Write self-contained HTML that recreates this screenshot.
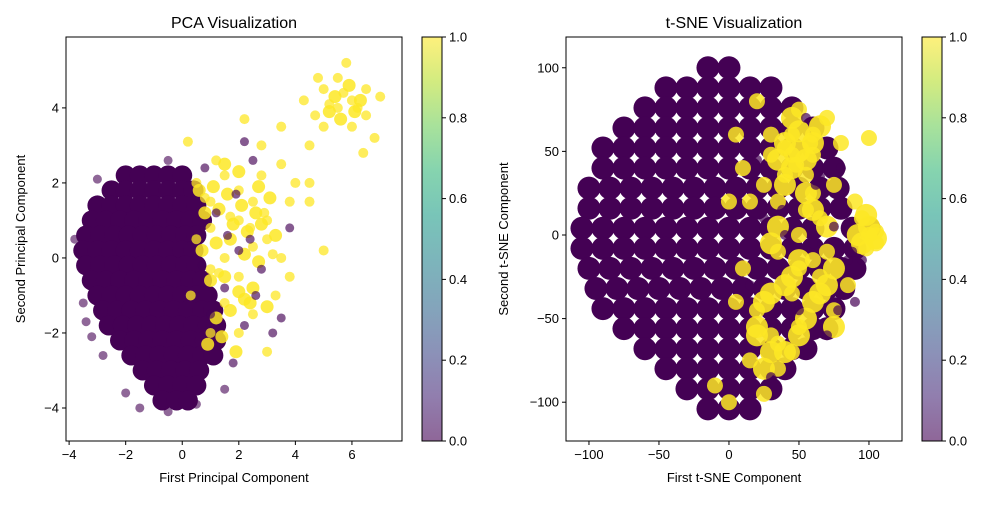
<!DOCTYPE html>
<html><head><meta charset="utf-8"><style>
body{margin:0;background:#fff;width:1000px;height:500px;overflow:hidden}
svg text{font-family:"Liberation Sans","DejaVu Sans",sans-serif;fill:#000}
</style></head><body>
<svg id="chart" width="1000" height="500" xmlns="http://www.w3.org/2000/svg">
<defs>
<linearGradient id="vir" x1="0" y1="1" x2="0" y2="0">
<stop offset="0" stop-color="#440154"/><stop offset="0.11" stop-color="#482878"/><stop offset="0.22" stop-color="#3e4989"/><stop offset="0.33" stop-color="#31688e"/><stop offset="0.44" stop-color="#26828e"/><stop offset="0.56" stop-color="#1f9e89"/><stop offset="0.67" stop-color="#35b779"/><stop offset="0.78" stop-color="#6ece58"/><stop offset="0.89" stop-color="#b5de2b"/><stop offset="1" stop-color="#fde725"/>
</linearGradient>
<clipPath id="c1"><rect x="66" y="37" width="336" height="404"/></clipPath>
<clipPath id="c2"><rect x="566" y="37" width="336" height="404"/></clipPath>
</defs>
<g id="g1" clip-path="url(#c1)"></g>
<g id="g2" clip-path="url(#c2)"></g>
<g id="axes"></g>
</svg>
<script>
// ---- PCA data ----
const pcaRowY=[2.2,1.8,1.4,1.0,0.6,0.2,-0.2,-0.6,-1.0,-1.4,-1.8,-2.2,-2.6,-3.0,-3.4,-3.8];
const pcaRowX=[[-2,-1.5,-1,-0.5,0],[-2.5,-2,-1.5,-1,-0.5,0,0.4],[-3,-2.5,-2,-1.5,-1,-0.5,0,0.5],[-3.2,-2.7,-2.2,-1.7,-1.2,-0.7,-0.2,0.3,0.7],[-3.4,-2.9,-2.4,-1.9,-1.4,-0.9,-0.4,0.1,0.5],[-3.5,-3,-2.5,-2,-1.5,-1,-0.5,0,0.4],[-3.4,-2.9,-2.4,-1.9,-1.4,-0.9,-0.4,0.1,0.5],[-3.2,-2.7,-2.2,-1.7,-1.2,-0.7,-0.2,0.3,0.7],[-3,-2.5,-2,-1.5,-1,-0.5,0,0.5,0.9],[-2.8,-2.3,-1.8,-1.3,-0.8,-0.3,0.2,0.7,1.1],[-2.6,-2.1,-1.6,-1.1,-0.6,-0.1,0.4,0.9,1.2],[-2.2,-1.7,-1.2,-0.7,-0.2,0.3,0.8,1.2],[-1.8,-1.3,-0.8,-0.3,0.2,0.7,1.1],[-1.4,-0.9,-0.4,0.1,0.6],[-1,-0.5,0,0.5],[-0.7,-0.2,0.2]];
const pcaPurpleOutX=[-3.8,-3.5,-3.4,-3,-2,-1.5,-0.5,0.5,1.5,-0.5,-3.2,-2.8];
const pcaPurpleOutY=[0.5,-1.2,-1.7,2.1,-3.6,-4,-4.1,-3.9,-3.5,2.6,-2.1,-2.6];
const pcaYellowX=[0.5,1,1.5,2,2.5,3,2,1,1.5,2.5,3,2,1,0.5,1.5,2.5,3.3,1,2,3,0.3,2.8,3.5,3.8,4,4.5,4.5,5,5,5.5,5.5,6,6,6.5,6.5,5.8,7,4.3,4.8,6.8,3.5,2.8,4.5,3.5,3.8,5,6.4,2.2,0.2,1.2,5.2,5.7,6.2,4.7,2.4,1.7,2.9,3.2,1.3,0.8];
const pcaYellowY=[2,1.5,2.2,1.8,1.5,1,1,0.8,0,0.3,0.5,-0.5,-0.3,0.5,-1.2,-1.5,-1,-2,-2,-2.5,-1,2.2,2.5,1.5,2,2,3,3.5,4.5,4,4.8,4.2,3.5,4.5,3.8,5.2,4.3,4.2,4.8,3.2,3.5,3,1.5,0,-0.5,0.2,2.8,3.7,3.1,2.6,4.1,4.4,4,3.8,0.8,1.1,1.2,0.1,-0.4,1.6];
const pcaYellow2X=[0.6,1.1,1.6,2.1,2.6,3.1,0.8,1.3,1.8,2.3,2.8,3.3,0.7,1.2,1.7,2.2,2.7,1,1.5,2,2.5,3,1.2,1.7,2.2,0.9,1.4,1.9,2.4,1.5,2,2.7,5.4,5.9,6.1,5.6,5.2,6.3];
const pcaYellow2Y=[1.8,1.9,1.7,1.4,1.2,1.6,1.2,1.3,0.9,0.7,0.9,0.6,0.2,0.4,0.5,0.1,-0.1,-0.6,-0.5,-0.9,-0.8,-1.3,-1.6,-1.4,-1.1,-2.3,-2.1,-2.5,-1.2,2.5,2.3,1.9,4.3,4.6,3.9,3.7,3.9,4.2];
const pcaSpeckX=[1.2,2,2.8,1.5,2.2,3.2,0.8,2.5,1.8,3.5,2.2,3.8,1.6,2.6,1,2.4,0.7,1.9];
const pcaSpeckY=[1.2,0.2,-0.3,-0.8,-1.8,-2,2.4,2.6,-2.8,-1.6,3.1,0.8,0.6,-1,-1.5,0.5,-0.2,1.7];
// ---- t-SNE data ----
const tsRowY=[100,88,76,64,52,40,28,16,4,-8,-20,-32,-44,-56,-68,-80,-92,-104];
const tsRowX=[[-15,0],[-45,-30,-15,0,15,30],[-60,-45,-30,-15,0,15,30,45],[-75,-60,-45,-30,-15,0,15,30,45,60],[-90,-75,-60,-45,-30,-15,0,15,30,45,60,70],[-90,-75,-60,-45,-30,-15,0,15,30,45,60,75],[-100,-85,-70,-55,-40,-25,-10,5,20,35,50,65,78],[-100,-85,-70,-55,-40,-25,-10,5,20,35,50,65,80],[-105,-90,-75,-60,-45,-30,-15,0,15,30,45,60,88,100],[-105,-90,-75,-60,-45,-30,-15,0,15,30,45,60,75,90],[-100,-85,-70,-55,-40,-25,-10,5,20,35,50,65,80,90],[-95,-80,-65,-50,-35,-20,-5,10,25,40,55,70,82],[-90,-75,-60,-45,-30,-15,0,15,30,45,60,75],[-75,-60,-45,-30,-15,0,15,30,45,60,70],[-60,-45,-30,-15,0,15,30,45,55],[-45,-30,-15,0,15,30,40],[-30,-15,0,15,30],[-15,0,15]];
const tsYellowX=[30,45,60,30,45,60,40,55,70,50,25,15,35,60,75,65,50,35,50,65,45,20,30,15,35,50,75,85,100,95,105,100,20,5,10,0,10,5,0,-10,25,80,90,70,55,40,48,58,105,98,60,35,45];
const tsYellowY=[60,60,60,48,48,48,36,36,70,75,30,20,20,25,30,10,0,-10,-20,-25,-35,-45,-60,-75,-80,-55,-45,-30,0,10,-5,58,80,60,40,20,-20,-40,-100,-90,-95,55,20,-10,15,52,42,55,2,-8,-15,-65,-70];
const tsYellowDenseX=[40,50,55,45,35,60,65,50,45,40,55,60,35,30,70,75,95,100,105,92,98,50,45,40,30,25,20,30,65,60,55,70,75,20,25,40,50];
const tsYellowDenseY=[55,50,45,40,45,55,65,62,70,30,25,15,5,-5,5,-20,-5,5,-2,0,12,-15,-25,-30,-35,-40,-55,-70,-35,-40,-50,-30,-55,-60,-80,-70,-60];
const tsSpeckX=[40,60,80,25,70,90,55,15,85,65,30,50,95,75,20,88,62,38,78];
const tsSpeckY=[0,-5,40,10,-60,-40,70,-30,-15,35,-85,-45,-15,5,45,-10,30,15,-45];

const svg=document.getElementById('chart');
const NS='http://www.w3.org/2000/svg';
function el(tag,attrs,parent){const e=document.createElementNS(NS,tag);for(const k in attrs)e.setAttribute(k,attrs[k]);(parent||svg).appendChild(e);return e;}
const p1x=v=>66+(v-(-4.11))/(7.77+4.11)*336, p1y=v=>441-(v-(-4.88))/(5.89+4.88)*404;
const p2x=v=>566+(v-(-116.4))/(240)*336, p2y=v=>441-(v-(-123.2))/(241.6)*404;
const g1=document.getElementById('g1'), g2=document.getElementById('g2');
const PUR='#440154', YEL='#fde725';
function dot(g,x,y,r,fill,op,name){const c=el('circle',{cx:x,cy:y,r:r,fill:fill,'fill-opacity':op},g);

}
pcaRowY.forEach((y,i)=>pcaRowX[i].forEach(x=>dot(g1,p1x(x),p1y(y),10,PUR,1,'pca-point-class0')));
pcaPurpleOutX.forEach((x,i)=>dot(g1,p1x(x),p1y(pcaPurpleOutY[i]),4.5,PUR,0.6,'pca-point-class0'));
pcaYellowX.forEach((x,i)=>dot(g1,p1x(x),p1y(pcaYellowY[i]),5,YEL,0.75,'pca-point-class1'));
pcaYellow2X.forEach((x,i)=>dot(g1,p1x(x),p1y(pcaYellow2Y[i]),6.5,YEL,0.85,'pca-point-class1'));
pcaSpeckX.forEach((x,i)=>dot(g1,p1x(x),p1y(pcaSpeckY[i]),4.5,PUR,0.65,'pca-point-class0'));
tsRowY.forEach((y,i)=>tsRowX[i].forEach(x=>dot(g2,p2x(x),p2y(y),11.5,PUR,1,'tsne-point-class0')));
tsYellowDenseX.forEach((x,i)=>dot(g2,p2x(x),p2y(tsYellowDenseY[i]),11,YEL,0.9,'tsne-point-class1'));
tsYellowX.forEach((x,i)=>dot(g2,p2x(x),p2y(tsYellowY[i]),8,YEL,0.85,'tsne-point-class1'));
tsSpeckX.forEach((x,i)=>dot(g2,p2x(x),p2y(tsSpeckY[i]),5,PUR,0.7,'tsne-point-class0'));

const ax=document.getElementById('axes');
function txt(x,y,s,anchor,size,name,rot){const t=el('text',{x:x,y:y,'text-anchor':anchor,'font-size':size},ax);t.textContent=s;
if(rot)t.setAttribute('transform','rotate(-90 '+x+' '+y+')');

return t;}
function panel(L,T,W,H,xf,yf,xt,yt,title,xl,yl,ylx,pre){
 const r=el('rect',{x:L,y:T,width:W,height:H,fill:'none',stroke:'#000','stroke-width':1},ax);
 
 
 xt.forEach(v=>{const x=xf(v);el('line',{x1:x,x2:x,y1:T+H,y2:T+H+4,stroke:'#000'},ax);txt(x,T+H+18,String(v).replace('-','\u2212'),'middle',13,pre+'-x-tick-label');});
 yt.forEach(v=>{const y=yf(v);el('line',{x1:L-4,x2:L,y1:y,y2:y,stroke:'#000'},ax);txt(L-7,y+4.5,String(v).replace('-','\u2212'),'end',13,pre+'-y-tick-label');});
 txt(L+W/2,T-9,title,'middle',16,pre+'-title');
 txt(L+W/2,T+H+41,xl,'middle',13,pre+'-x-axis-title');
 txt(ylx,T+H/2,yl,'middle',13,pre+'-y-axis-title',true);
}
const pcaXTicks=[-4,-2,0,2,4,6], pcaYTicks=[-4,-2,0,2,4];
const tsXTicks=[-100,-50,0,50,100], tsYTicks=[-100,-50,0,50,100];
const cbTicks=[0.0,0.2,0.4,0.6,0.8,1.0];
panel(66,37,336,404,p1x,p1y,pcaXTicks,pcaYTicks,'PCA Visualization','First Principal Component','Second Principal Component',25,'pca');
panel(566,37,336,404,p2x,p2y,tsXTicks,tsYTicks,'t-SNE Visualization','First t-SNE Component','Second t-SNE Component',508,'tsne');
function cbar(L,pre){const r=el('rect',{x:L,y:37,width:20,height:404,fill:'url(#vir)','fill-opacity':0.6},ax);


el('rect',{x:L,y:37,width:20,height:404,fill:'none',stroke:'#000'},ax);
cbTicks.forEach(v=>{const y=441-v*404;el('line',{x1:L+20,x2:L+24,y1:y,y2:y,stroke:'#000'},ax);txt(L+27,y+4.5,v.toFixed(1),'start',13,pre+'-colorbar-tick-label');});}
cbar(422,'pca');cbar(922,'tsne');
</script>
</body></html>
